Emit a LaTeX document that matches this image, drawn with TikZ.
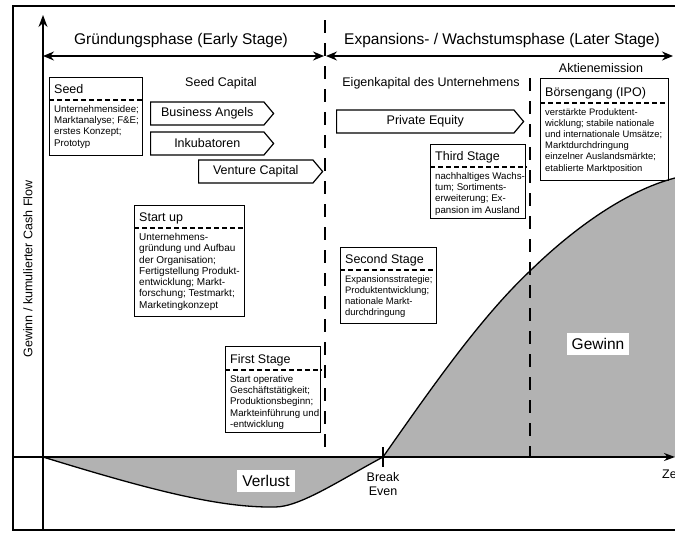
\documentclass[tikz,border=0pt]{standalone}
\usepackage{fontspec}
\setmainfont{Liberation Sans}
\usetikzlibrary{arrows.meta,shapes.symbols,positioning}

\definecolor{areagray}{gray}{0.7}

\begin{document}
\begin{tikzpicture}[x=1pt, y=-1pt,
            stagebox/.style={draw, line width=1.2pt, anchor=north west, inner sep=0pt},
            boxtitle/.style={anchor=base west, inner sep=0pt, font=\fontsize{12.5}{14}\selectfont},
            boxtext/.style={anchor=north west, align=left, inner xsep=5pt, inner ysep=5pt, font=\fontsize{9.7}{11.3}\selectfont},
            sep/.style={line width=1.2pt, dash pattern=on 5pt off 3pt},
            capital/.style={signal, signal to=east, signal pointer angle=100, draw, line width=1.2pt, anchor=west, minimum height=23pt, inner sep=0pt, font=\fontsize{12.5}{14}\selectfont},
            phase/.style={font=\fontsize{15.5}{18}\selectfont},
            caption/.style={font=\fontsize{12.5}{15}\selectfont},
            phaseline/.style={line width=1.3pt, dash pattern=on 13pt off 10pt},
            area/.style={fill=areagray},
            axis/.style={line width=1.4pt},
            span/.style={line width=1.4pt, {Stealth[length=11pt,width=9pt]}-{Stealth[length=11pt,width=9pt]}}
        ]
            \useasboundingbox (0,0) rectangle (675,533);

            % coordinates
            \coordinate (orig) at (43,457);
            \coordinate (ytop) at (43,15);
            \coordinate (ybot) at (43,530);
            \coordinate (xleft) at (13,457);
            \coordinate (xend) at (675,457);
            \coordinate (be) at (383,457);
            \coordinate (fnw) at (13,6);
            \coordinate (fne) at (700,6);
            \coordinate (fsw) at (13,530);
            \coordinate (fse) at (700,530);

            % areas
            \fill[area] (orig) .. controls (150,490) and (220,508) .. (275,507)
                .. controls (300,507) and (340,480) .. (be) -- cycle;
            \fill[area] (be) .. controls (430,390) and (480,318) .. (530,271)
                .. controls (580,222) and (640,182) .. (690,175) -- (690,457) -- cycle;

            % phase borders
            \coordinate (d1top) at (325,20);
            \coordinate (d1bot) at (325,457);
            \coordinate (d2top) at (530,78);
            \coordinate (d2bot) at (530,457);
            \draw[phaseline] (d1top) -- (d1bot);
            \draw[phaseline] (d2top) -- (d2bot);

            % curves
            \draw[line width=1.3pt] (orig) .. controls (150,490) and (220,508) .. (275,507)
                .. controls (300,507) and (340,480) .. (be);
            \draw[line width=1.3pt] (be) .. controls (430,390) and (480,318) .. (530,271)
                .. controls (580,222) and (640,182) .. (690,175);

            % frame and axes
            \draw[line width=1.2pt] (fne) -- (fnw) -- (fsw) -- (fse);
            \draw[axis, -{Stealth[length=12pt,width=9pt]}] (ybot) -- (ytop);
            \draw[axis, -{Stealth[length=11pt,width=8pt]}] (xleft) -- (xend);
            \coordinate (betop) at (383,447);
            \coordinate (bebot) at (383,467);
            \draw[line width=1.2pt] (betop) -- (bebot);

            % phases
            \coordinate (earlyl) at (43,56);
            \coordinate (earlyr) at (324,56);
            \coordinate (laterl) at (326,56);
            \coordinate (laterr) at (673,56);
            \draw[span] (earlyl) -- (earlyr);
            \draw[span] (laterl) -- (laterr);
            \node[phase] (early) at (181,40) {Gründungsphase (Early Stage)};
            \node[phase] (later) at (502,40) {Expansions- / Wachstumsphase (Later Stage)};

            % labels
            \node[caption] (seedcap) at (221,83) {Seed Capital};
            \node[caption] (eigen) at (431,83) {Eigenkapital des Unternehmens};
            \node[caption] (aktien) at (601,68) {Aktienemission};
            \node[caption, rotate=90] (ylabel) at (28,269) {Gewinn / kumulierter Cash Flow};
            \node[caption, align=center] (betext) at (383,484) {Break\\[-1pt]Even};
            \node[caption, anchor=west, inner sep=0pt] (zeit) at (662,474) {Zeit};
            \node[phase, fill=white, inner sep=5pt] (verlust) at (266,481) {Verlust};
            \node[phase, fill=white, inner sep=5pt] (gewinn) at (598,344) {Gewinn};

            % capital
            \node[capital, minimum width=123pt] (angels) at (150,113.5) {Business Angels};
            \node[capital, minimum width=123pt] (inku) at (150,143.5) {Inkubatoren};
            \node[capital, minimum width=124pt] (venture) at (198,171.5) {Venture Capital};
            \node[capital, minimum width=187pt] (equity) at (336,121.5) {Private Equity};

            % stages
            \node[stagebox, minimum width=93pt, minimum height=78pt] (seed) at (49,77) {};
            \node[boxtitle] (seedtitle) at ([xshift=5pt,yshift=-16pt]seed.north west) {Seed};
            \draw[sep] ([yshift=-23pt]seed.north west) -- ([yshift=-23pt]seed.north east);
            \node[boxtext] (seedtext) at ([yshift=-23pt]seed.north west)
                {Unternehmensidee;\\Marktanalyse; F\&E;\\erstes Konzept;\\Prototyp};

            \node[stagebox, minimum width=110pt, minimum height=111pt] (startup) at (134,205) {};
            \node[boxtitle] (startuptitle) at ([xshift=5pt,yshift=-16pt]startup.north west) {Start up};
            \draw[sep] ([yshift=-23pt]startup.north west) -- ([yshift=-23pt]startup.north east);
            \node[boxtext, font=\fontsize{10}{11.3}\selectfont] (startuptext) at ([yshift=-23pt]startup.north west)
                {Unternehmens-\\gründung und Aufbau\\der Organisation;\\Fertigstellung Produkt-\\entwicklung; Markt-\\forschung; Testmarkt;\\Marketingkonzept};

            \node[stagebox, minimum width=95pt, minimum height=86pt] (first) at (225,346) {};
            \node[boxtitle] (firsttitle) at ([xshift=5pt,yshift=-17pt]first.north west) {First Stage};
            \draw[sep] ([yshift=-24pt]first.north west) -- ([yshift=-24pt]first.north east);
            \node[boxtext] (firsttext) at ([yshift=-24pt]first.north west)
                {Start operative\\Geschäftstätigkeit;\\Produktionsbeginn;\\Markteinführung und\\-entwicklung};

            \node[stagebox, minimum width=96pt, minimum height=76pt] (second) at (340,247) {};
            \node[boxtitle] (secondtitle) at ([xshift=5pt,yshift=-16pt]second.north west) {Second Stage};
            \draw[sep] ([yshift=-23pt]second.north west) -- ([yshift=-23pt]second.north east);
            \node[boxtext, font=\fontsize{9.4}{11.3}\selectfont] (secondtext) at ([yshift=-23pt]second.north west)
                {Expansionsstrategie;\\Produktentwicklung;\\nationale Markt-\\durchdringung};

            \node[stagebox, minimum width=95pt, minimum height=74pt] (third) at (430,144) {};
            \node[boxtitle] (thirdtitle) at ([xshift=5pt,yshift=-16pt]third.north west) {Third Stage};
            \draw[sep] ([yshift=-23pt]third.north west) -- ([yshift=-23pt]third.north east);
            \node[boxtext] (thirdtext) at ([yshift=-23pt]third.north west)
                {nachhaltiges Wachs-\\tum; Sortiments-\\erweiterung; Ex-\\pansion im Ausland};

            \node[stagebox, minimum width=128pt, minimum height=102pt] (ipo) at (540,78) {};
            \node[boxtitle] (ipotitle) at ([xshift=5pt,yshift=-18pt]ipo.north west) {Börsengang (IPO)};
            \draw[sep] ([yshift=-25pt]ipo.north west) -- ([yshift=-25pt]ipo.north east);
            \node[boxtext, font=\fontsize{9.4}{11.2}\selectfont] (ipotext) at ([yshift=-25pt]ipo.north west)
                {verstärkte Produktent-\\wicklung; stabile nationale\\und internationale Umsätze;\\Marktdurchdringung\\einzelner Auslandsmärkte;\\etablierte Marktposition};

        \end{tikzpicture}
\end{document}
